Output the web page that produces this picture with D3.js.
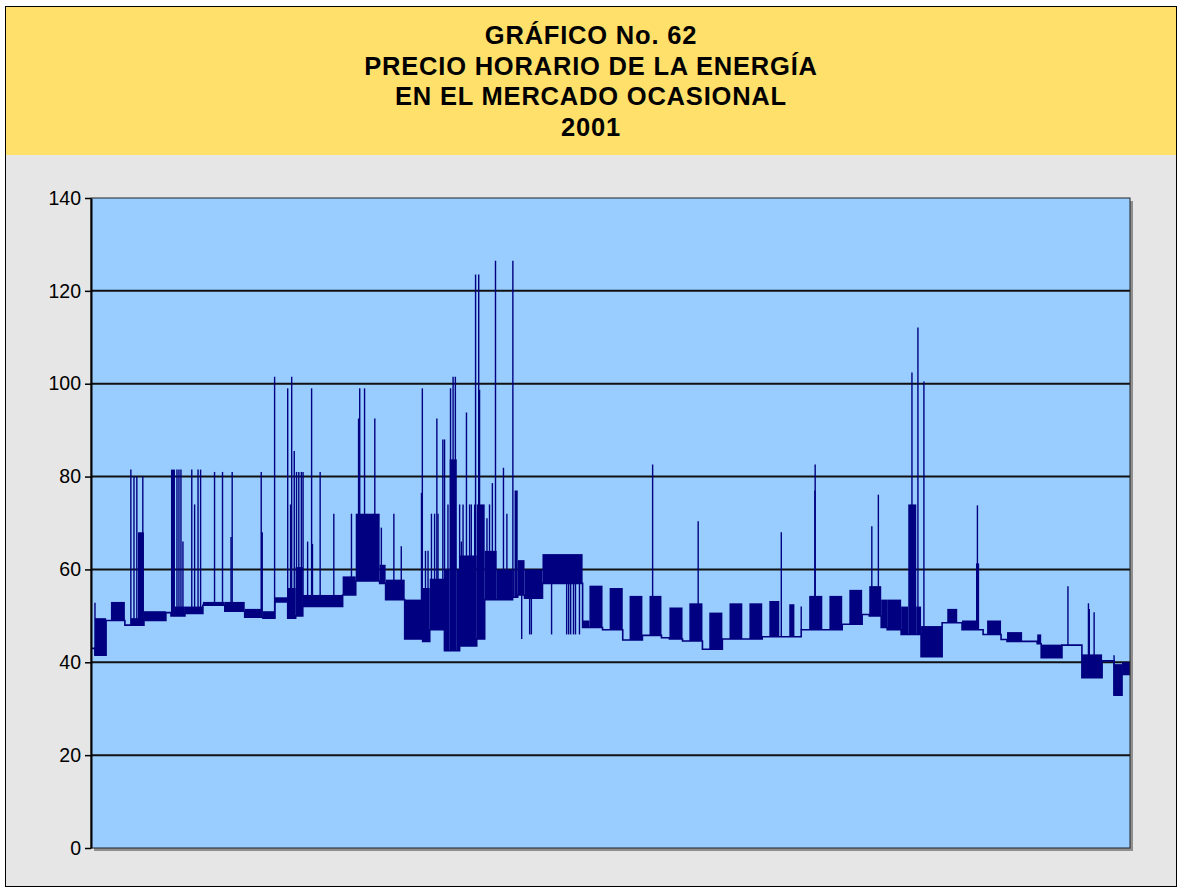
<!DOCTYPE html>
<html>
<head>
<meta charset="utf-8">
<script src="https://cdn.jsdelivr.net/npm/d3@7"></script>
<style>
  body { margin: 0; background: #fff; }
  svg { display: block; }
</style>
</head>
<body>
<div id="chart"></div>
<script>
// title lines
const titleLines = ['GRÁFICO No. 62', 'PRECIO HORARIO DE LA ENERGÍA', 'EN EL MERCADO OCASIONAL', '2001'];
const yTicks = [0, 20, 40, 60, 80, 100, 120, 140];

// price bands: day of year where each band starts, its low and high price
const segStart = [0, 1.4, 5.3, 7.0, 11.9, 14.0, 16.5, 18.6, 26.3, 28.1, 29.5, 33.0, 39.3, 47.0, 54.0, 59.7, 60.4, 64.6, 69.1, 71.9,
  74.4, 88.4, 93.0, 101.4, 103.5, 110.2, 116.5, 119.0, 124.2, 126.0, 128.5, 129.5, 135.5, 138.3, 142.5, 148.1, 148.8, 149.9, 152.3, 158.6,
  172.7, 175.1, 179.7, 182.2, 186.8, 189.2, 193.7, 196.2, 200.4, 203.2, 207.8, 210.2, 214.8, 217.2, 221.8, 224.3, 228.8, 231.3, 235.8, 238.3,
  241.8, 245.3, 247.1, 249.5, 252.3, 256.9, 259.4, 263.9, 266.4, 270.9, 273.4, 277.6, 279.7, 284.6, 287.1, 289.9, 291.6, 299.0, 300.8, 304.3,
  306.0, 310.9, 312.0, 313.4, 314.8, 319.7, 321.8, 327.1, 332.4, 333.8, 341.1, 348.1, 355.2, 359.4, 362.2];
const segLow = [43, 41.5, 49, 49, 48, 48, 48, 49, 50.7, 50, 50, 50.5, 52.3, 51, 49.7, 49.7, 49.5, 53, 49.5, 50,
  52, 54.5, 57.5, 57, 53.5, 45, 44.5, 47, 42.5, 42.5, 42.5, 43.5, 45, 53.5, 53.5, 54, 54, 54.5, 53.8, 57,
  47.5, 47.5, 47, 47, 44.8, 44.8, 45.8, 45.8, 45.3, 45, 44.6, 44.6, 42.8, 42.8, 45, 45, 45, 45, 45.5, 45.5,
  45.5, 45.5, 45.5, 47, 47, 47, 47, 48.2, 48.2, 50.3, 50, 47.5, 47, 46, 46, 46, 41.2, 48.5, 48.5, 48.5,
  47, 47, 47, 46, 46, 44.9, 44.5, 44.5, 44, 41, 43.7, 36.7, 40.3, 32.9, 37.4];
const segHigh = [43, 49.5, 49, 53, 48, 49.5, 68, 51, 50.7, 81.5, 52, 52, 53, 53, 51.5, 68, 51, 54, 56, 60.5,
  54.5, 58.5, 72, 61, 57.8, 53.5, 56, 58, 60, 83.7, 60, 63, 74, 64, 60, 60, 77, 62, 60, 63.3,
  49, 56.5, 47, 56, 44.8, 54.3, 45.8, 54.3, 45.3, 51.8, 44.6, 52.7, 42.8, 50.7, 45, 52.7, 45, 52.7, 45.5, 53.2,
  45.5, 52.5, 45.5, 47, 54.3, 47, 54.3, 48.2, 55.6, 50.3, 56.4, 53.5, 53.5, 52, 74, 52, 47.8, 48.5, 51.5, 48.5,
  49, 61.3, 47, 46, 49, 44.9, 46.5, 44.5, 46, 43.8, 43.7, 41.7, 40.3, 39.6, 40];

// single-hour peaks and dips: day of year and price reached
const spikeDay = [1.4, 14.0, 15.1, 16.1, 18.2, 30.2, 30.9, 31.6, 32.3, 35.4, 36.4, 37.6, 38.5, 43.4, 46.2, 49.2, 49.6, 59.8, 64.5, 69.1,
  70.1, 70.5, 71.4, 72.2, 73.0, 73.9, 74.5, 76.1, 77.5, 77.8, 80.5, 85.3, 91.5, 94.0, 94.4, 96.1, 99.7, 102.0, 106.4, 109.0,
  116.1, 116.4, 117.5, 118.4, 119.6, 120.7, 121.5, 121.9, 123.6, 124.2, 125.4, 126.3, 127.2, 128.0, 129.5, 130.1, 130.7, 131.9, 133.0, 133.6,
  134.8, 135.1, 136.2, 136.5, 139.1, 140.0, 141.0, 142.1, 144.9, 146.1, 148.2, 151.3, 154.1, 154.7, 161.8, 167.1, 167.8, 168.5, 169.5, 170.2,
  171.6, 197.3, 213.3, 242.5, 249.5, 254.3, 254.4, 274.3, 276.6, 288.4, 290.5, 292.6, 311.4, 343.2, 350.4, 350.7, 352.4, 359.4];
const spikeValue = [52.8, 81.5, 80, 80, 80, 81.5, 81.5, 81.5, 66, 81.5, 74, 81.5, 81.5, 81, 81, 67, 81, 81, 101.5, 99,
  74, 101.5, 85.5, 81, 81, 81, 81, 66, 99, 65.5, 81, 72, 72, 92.5, 99, 99, 92.5, 69, 72, 65,
  76.5, 99, 64, 64, 72, 72, 92.5, 72, 88, 88, 74, 99, 101.5, 101.5, 74, 66, 74, 93.8, 74, 74,
  74, 123.5, 123.5, 98.7, 71, 74, 78.6, 126.5, 81.9, 72, 126.5, 45, 46, 46, 46, 46, 46, 46, 46, 46,
  46, 82.6, 70.4, 68, 52, 77, 82.6, 69.3, 76.1, 102.4, 112.1, 100.5, 73.8, 56.4, 52.7, 51.5, 50.8, 41.5];

const W = 1178, H = 888;
const lineColor = '#000080';
const fontFamily = 'Helvetica, "Liberation Sans", Arial, sans-serif';

const svg = d3.select('#chart').append('svg')
  .attr('width', W)
  .attr('height', H);

// page background and frame
svg.append('rect').attr('width', W).attr('height', H).attr('fill', '#fff');
svg.append('rect').attr('x', 5).attr('y', 6).attr('width', 1172).attr('height', 881).attr('fill', '#e6e6e6');
svg.append('rect').attr('x', 5).attr('y', 6).attr('width', 1172).attr('height', 149).attr('fill', '#ffe06b');
svg.append('rect').attr('x', 5.5).attr('y', 6.5).attr('width', 1171).attr('height', 880)
  .attr('fill', 'none').attr('stroke', '#000').attr('stroke-width', 1);

// title
svg.append('g').selectAll('text')
  .data(titleLines)
  .enter().append('text')
  .attr('x', 591)
  .attr('y', (d, i) => 44 + i * 30.6)
  .attr('text-anchor', 'middle')
  .style('font-family', fontFamily)
  .style('font-weight', 'bold')
  .style('font-size', '25.5px')
  .style('letter-spacing', '0.8px')
  .style('fill', '#000')
  .text(d => d);

const x = d3.scaleLinear().domain([0, 365]).range([91, 1130]);
const y = d3.scaleLinear().domain([0, 140]).range([848, 198]);

// plot area with shadow
svg.append('rect')
  .attr('x', x(0) + 3).attr('y', y(140) + 3)
  .attr('width', x(365) - x(0)).attr('height', y(0) - y(140))
  .attr('fill', '#8f8f8f');
svg.append('rect')
  .attr('x', x(0)).attr('y', y(140))
  .attr('width', x(365) - x(0)).attr('height', y(0) - y(140))
  .attr('fill', '#99ccff');

// gridlines
svg.append('g').selectAll('line')
  .data(yTicks.filter(d => d > 0 && d < 140))
  .enter().append('line')
  .attr('x1', x(0)).attr('x2', x(365))
  .attr('y1', d => y(d)).attr('y2', d => y(d))
  .attr('stroke', '#111')
  .attr('stroke-width', 2);

const plot = svg.append('g');

const segEnd = i => (i + 1 < segStart.length ? segStart[i + 1] : 365);

// dense daily swings drawn as filled bands
plot.selectAll('rect.band')
  .data(segStart.map((d, i) => i).filter(i => segHigh[i] > segLow[i]))
  .enter().append('rect')
  .attr('class', 'band')
  .attr('x', i => x(segStart[i]))
  .attr('width', i => x(segEnd(i)) - x(segStart[i]))
  .attr('y', i => y(segHigh[i]))
  .attr('height', i => y(segLow[i]) - y(segHigh[i]))
  .attr('fill', lineColor);

// base line through the band floors
const basePts = segStart.map((d, i) => [d, segLow[i]]);
basePts.push([365, segLow[segLow.length - 1]]);
plot.append('path')
  .datum(basePts)
  .attr('fill', 'none')
  .attr('stroke', lineColor)
  .attr('stroke-width', 1.6)
  .attr('d', d3.line().x(d => x(d[0])).y(d => y(d[1])).curve(d3.curveStepAfter));

// spikes
plot.selectAll('line.spike')
  .data(spikeDay.map((d, i) => i))
  .enter().append('line')
  .attr('class', 'spike')
  .attr('x1', i => x(spikeDay[i])).attr('x2', i => x(spikeDay[i]))
  .attr('y1', i => y(segLow[d3.bisectRight(segStart, spikeDay[i]) - 1]))
  .attr('y2', i => y(spikeValue[i]))
  .attr('stroke', lineColor)
  .attr('stroke-width', 1.4);

// plot border
svg.append('rect')
  .attr('x', x(0)).attr('y', y(140))
  .attr('width', x(365) - x(0)).attr('height', y(0) - y(140))
  .attr('fill', 'none').attr('stroke', '#222').attr('stroke-width', 1);

// y axis
const yAxis = svg.append('g')
  .attr('transform', `translate(${x(0)},0)`)
  .call(d3.axisLeft(y).tickValues(yTicks).tickSize(6).tickPadding(4).tickSizeOuter(0));
yAxis.select('.domain').attr('stroke', '#000').attr('stroke-width', 2);
yAxis.selectAll('.tick line').attr('stroke', '#000').attr('stroke-width', 1.5);
yAxis.selectAll('.tick text')
  .style('font-family', fontFamily)
  .style('font-size', '19.5px')
  .style('fill', '#000');
</script>
</body>
</html>
